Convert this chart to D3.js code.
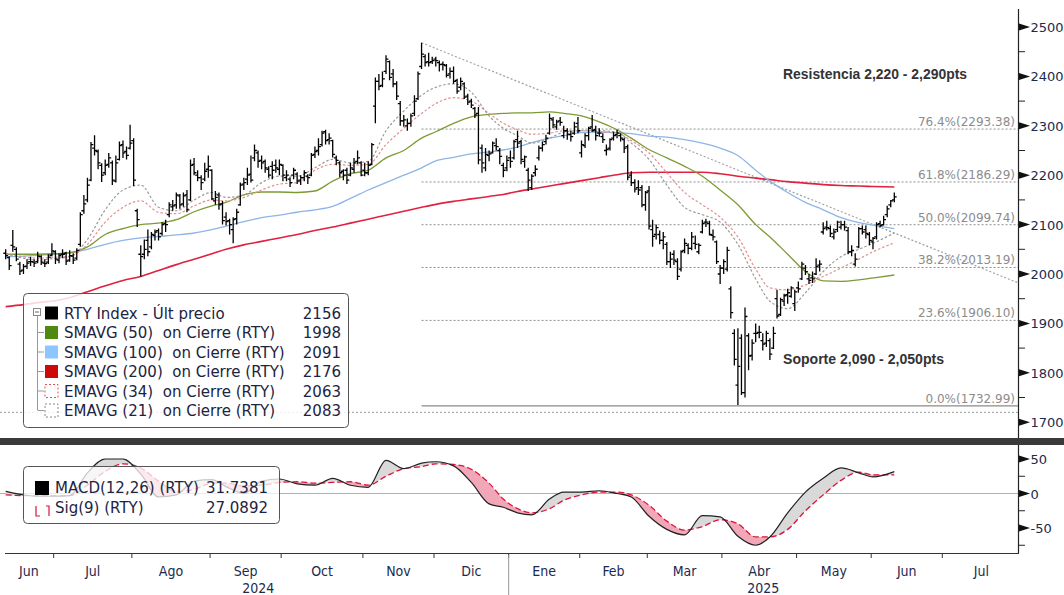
<!DOCTYPE html>
<html>
<head>
<meta charset="utf-8">
<script src="https://cdn.jsdelivr.net/npm/d3@7"></script>
<style>
  body { margin: 0; background: #fff; }
  svg { display: block; font-family: "DejaVu Sans", sans-serif; }
</style>
</head>
<body>
<svg id="chart" width="1064" height="595"></svg>
<script>
// días festivos del mercado (no hay barra)
var holidays = ["2024-06-19","2024-07-04","2024-09-02","2024-11-28","2024-12-25","2025-01-01",
  "2025-01-09","2025-01-20","2025-02-17","2025-04-18","2025-05-26","2025-06-19","2025-07-04"];

// RTY diario, 10 jun 2024 -> 10 jun 2025 (apertura, máximo, mínimo, cierre)
var opens = [
  2042,2033,2058,2050,2020,2008,2016,2025,2024,2025,2035,2022,2024,2038,
  2045,2028,2040,2042,2028,2036,2032,2060,2128,2150,2190,2255,2248,2220,2205,2222,2225,2188,2232,2262,2248,2255,
  2270,2128,2040,2040,2068,2055,2078,2088,2082,2102,2120,2136,2140,2158,2142,2160,2150,2222,2200,2195,2192,2212,
  2210,2148,2160,2142,2115,2108,2090,2112,2140,2182,2192,2202,2235,2245,2230,2228,2212,2218,2220,2212,
  2220,2195,2192,2200,2202,2190,2195,2198,2200,2242,2250,2262,2288,2272,2270,2235,2225,2208,2210,2200,2212,2228,2225,
  2210,2205,2222,2340,2390,2382,2410,2430,2405,2385,2345,2310,2300,2305,2325,2355,2420,2440,2430,2430,
  2435,2428,2425,2422,2405,2410,2392,2378,2385,2360,2350,2335,2325,2255,2215,2240,2245,2260,2250,2220,2215,
  2235,2235,2272,2268,2228,2210,2175,2205,2235,2255,2268,2285,2312,2298,2310,2280,2290,2282,2285,2305,
  2245,2260,2280,2298,2292,2285,2278,2250,2255,2275,2282,2280,2272,2258,2200,2185,2175,2175,2140,
  2168,2090,2080,2080,2068,2060,2025,2040,2025,2010,2048,2058,2052,2062,2045,2085,2105,2102,2078,2065,2000,
  2012,2010,1970,1880,1775,1870,1760,1875,1835,1880,1882,1865,1860,1865,1850,1950,1918,1945,1958,1955,1940,
  1972,1990,2012,1990,1992,2000,2018,2085,2095,2092,2075,2090,2095,2100,2088,2045,2020,2055,2092,2090,2080,
  2065,2075,2102,2100,2120,2140,2150
];
var highs = [
  2050,2036,2089,2054,2025,2020,2030,2035,2030,2045,2038,2030,2040,2062,
  2048,2042,2050,2045,2048,2042,2052,2125,2160,2195,2267,2281,2252,2224,2232,2245,2230,2240,2268,2270,2258,2302,
  2275,2132,2058,2070,2090,2085,2090,2092,2105,2110,2145,2150,2165,2162,2165,2170,2232,2235,2210,2200,2225,2240,
  2212,2168,2165,2148,2125,2112,2115,2132,2185,2195,2215,2240,2262,2250,2240,2232,2218,2228,2232,2232,
  2222,2210,2196,2215,2206,2200,2210,2202,2245,2258,2275,2290,2292,2285,2272,2240,2228,2212,2215,2225,2235,2250,2228,
  2225,2228,2265,2398,2405,2410,2443,2432,2415,2390,2350,2322,2315,2325,2362,2410,2468,2445,2448,2440,
  2440,2432,2430,2425,2418,2420,2395,2398,2388,2365,2355,2338,2338,2262,2255,2250,2268,2275,2255,2225,2240,
  2250,2272,2290,2272,2240,2215,2202,2220,2260,2268,2282,2325,2318,2312,2318,2300,2295,2290,2308,2318,
  2270,2285,2298,2322,2300,2295,2285,2262,2275,2288,2292,2285,2276,2262,2208,2192,2190,2180,2168,
  2178,2110,2100,2088,2085,2065,2045,2048,2032,2048,2072,2062,2085,2078,2062,2110,2112,2108,2090,2068,2018,
  2030,2055,1975,1888,1890,1878,1932,1880,1868,1900,1895,1880,1885,1870,1893,1968,1952,1960,1970,1975,1968,
  1985,2025,2018,2000,2005,2032,2028,2105,2108,2098,2092,2108,2108,2108,2095,2058,2042,2095,2098,2098,2085,
  2075,2105,2108,2118,2138,2150,2165
];
var lows = [
  2030,2008,2045,2026,1998,2000,2010,2016,2014,2022,2018,2014,2020,2036,
  2020,2022,2032,2018,2025,2020,2028,2055,2122,2145,2188,2240,2212,2186,2200,2215,2180,2185,2230,2235,2232,2252,
  2178,2095,1995,2030,2036,2050,2068,2068,2078,2085,2115,2128,2132,2132,2136,2125,2148,2200,2188,2170,2188,2195,
  2150,2140,2130,2100,2098,2080,2062,2100,2138,2170,2180,2185,2228,2215,2212,2205,2195,2192,2205,2200,
  2188,2188,2176,2192,2182,2180,2188,2182,2198,2235,2240,2258,2262,2262,2236,2220,2196,2190,2182,2198,2205,2222,2198,
  2198,2200,2220,2305,2372,2378,2405,2392,2378,2352,2300,2298,2290,2298,2320,2352,2415,2420,2420,2425,
  2420,2410,2412,2398,2396,2385,2365,2372,2354,2342,2336,2316,2222,2205,2208,2228,2244,2250,2222,2196,2208,
  2215,2232,2255,2222,2215,2168,2170,2198,2230,2248,2262,2282,2295,2292,2300,2275,2272,2268,2282,2285,
  2236,2255,2270,2288,2270,2278,2265,2240,2250,2270,2275,2268,2245,2190,2178,2165,2160,2135,2128,
  2090,2055,2070,2060,2050,2018,2012,2018,1988,2005,2042,2040,2048,2050,2040,2082,2095,2078,2068,2020,1980,
  2000,2005,1910,1815,1735,1755,1750,1805,1825,1862,1870,1845,1852,1826,1848,1910,1915,1935,1940,1952,1925,
  1962,1988,1998,1980,1982,1998,2005,2080,2088,2075,2070,2085,2090,2088,2040,2036,2015,2052,2080,2072,2058,
  2050,2070,2094,2098,2115,2135,2145
];
var closes = [
  2037,2017,2055,2030,2006,2015,2022,2025,2022,2036,2024,2021,2034,2047,
  2030,2037,2040,2026,2037,2028,2048,2120,2142,2180,2262,2250,2225,2200,2220,2235,2190,2225,2260,2245,2240,2265,
  2190,2110,2035,2050,2045,2080,2085,2075,2100,2100,2140,2138,2160,2140,2158,2130,2220,2205,2195,2185,2208,2218,
  2152,2155,2140,2108,2106,2100,2110,2125,2180,2185,2200,2190,2250,2228,2225,2215,2200,2210,2215,2222,
  2200,2200,2185,2210,2188,2195,2205,2195,2240,2248,2258,2285,2270,2275,2242,2230,2205,2200,2190,2215,2225,2235,2200,
  2205,2220,2262,2390,2380,2395,2435,2398,2385,2360,2310,2312,2305,2320,2350,2405,2445,2428,2428,2432,
  2432,2424,2424,2402,2410,2390,2370,2390,2358,2348,2342,2322,2231,2225,2242,2243,2265,2258,2238,2210,2230,
  2228,2268,2265,2232,2237,2190,2198,2212,2255,2262,2275,2315,2302,2308,2307,2290,2283,2278,2298,2290,
  2262,2280,2295,2290,2280,2285,2272,2252,2272,2280,2285,2275,2255,2196,2185,2172,2170,2140,2165,
  2097,2076,2094,2068,2075,2025,2030,2028,1995,2045,2062,2052,2075,2060,2058,2102,2105,2080,2075,2025,2012,
  2025,2048,1922,1827,1813,1760,1914,1834,1860,1880,1882,1858,1880,1838,1880,1915,1948,1956,1962,1972,1964,
  1970,2020,2005,1987,1990,2015,2020,2092,2094,2082,2085,2105,2100,2095,2045,2048,2030,2092,2085,2082,2068,
  2072,2100,2098,2110,2132,2148,2156
];

// medias móviles y MACD leídas por semana
var maDates = ["2024-06-10","2024-06-17","2024-06-24","2024-07-01","2024-07-08","2024-07-15","2024-07-22",
  "2024-07-29","2024-08-05","2024-08-12","2024-08-19","2024-08-26","2024-09-03","2024-09-09","2024-09-16",
  "2024-09-23","2024-09-30","2024-10-07","2024-10-14","2024-10-21","2024-10-28","2024-11-04","2024-11-11",
  "2024-11-18","2024-11-25","2024-12-02","2024-12-09","2024-12-16","2024-12-23","2024-12-30","2025-01-06",
  "2025-01-13","2025-01-21","2025-01-27","2025-02-03","2025-02-10","2025-02-18","2025-02-24","2025-03-03",
  "2025-03-10","2025-03-17","2025-03-24","2025-03-31","2025-04-07","2025-04-14","2025-04-21","2025-04-28",
  "2025-05-05","2025-05-12","2025-05-19","2025-05-27","2025-06-02","2025-06-10"];
var sma50 = [2040,2040,2040,2041,2043,2055,2080,2092,2100,2103,2110,2126,2138,2145,2160,2166,2166,2165,2168,
  2188,2203,2210,2235,2250,2275,2288,2305,2318,2323,2325,2326,2326,2328,2325,2320,2308,2292,2275,2252,2235,
  2218,2198,2170,2140,2100,2075,2040,2005,1986,1985,1988,1992,1998];
var sma100 = [2035,2036,2038,2040,2043,2050,2060,2068,2073,2076,2079,2083,2090,2097,2106,2114,2119,2125,2130,
  2137,2153,2170,2185,2200,2215,2229,2236,2243,2247,2251,2257,2266,2275,2280,2286,2287,2286,2284,2279,2277,
  2272,2265,2255,2240,2210,2188,2165,2145,2130,2114,2104,2099,2092];
var sma200 = [1934,1938,1942,1946,1952,1964,1976,1987,1995,2007,2019,2030,2041,2050,2059,2066,2073,2080,2088,
  2095,2103,2111,2119,2127,2135,2141,2147,2152,2157,2161,2167,2172,2178,2183,2189,2195,2201,2205,2206,2206,
  2206,2206,2203,2198,2194,2191,2187,2184,2181,2179,2178,2177,2176];
var ema34 = [2040,2035,2032,2034,2036,2060,2105,2135,2148,2125,2122,2138,2150,2148,2155,2170,2182,2185,2210,
  2222,2220,2222,2262,2295,2325,2345,2357,2350,2325,2305,2292,2283,2285,2290,2290,2288,2285,2270,2245,2205,
  2165,2140,2115,2075,2010,1972,1968,1978,1995,2012,2030,2045,2063];
var ema21 = [2042,2032,2028,2032,2035,2070,2130,2170,2180,2135,2128,2150,2165,2155,2160,2185,2198,2198,2215,
  2232,2225,2228,2290,2330,2362,2378,2385,2368,2320,2295,2280,2265,2275,2287,2290,2290,2287,2265,2232,2180,
  2135,2120,2105,2060,1990,1945,1930,1962,2005,2035,2050,2062,2083];
var macd = [3,-2,-4,-4,-3,30,50,50,28,-5,-2,18,20,10,0,18,21,14,12,22,12,9,48,36,44,46,40,16,-15,-20,-28,
  -31,-8,2,2,4,0,-5,-33,-52,-60,-32,-34,-62,-75,-63,-28,2,22,37,30,24,31.74];
var signal = [-2,-3,-3,-3,-3,12,32,43,37,18,3,6,15,15,11,12,16,17,15,16,17,12,25,36,39,43,42,35,15,-8,-22,
  -28,-22,-10,-2,2,2,-2,-17,-40,-53,-48,-38,-44,-63,-63,-52,-25,-2,19,31,27,27.09];

// niveles de Fibonacci desde el máximo de noviembre
var fibLevels = [2293.38, 2186.29, 2099.74, 2013.19, 1906.10, 1732.99];
var fibPct = ["76.4%", "61.8%", "50.0%", "38.2%", "23.6%", "0.0%"];
var fibStart = "2024-11-25";
var trendStart = ["2024-11-25", 2468], trendEnd = ["2025-06-10", 2083];
var lineaInferior = 1720;

var legendRows = [
  { name: "RTY Index - Últ precio", value: "2156" },
  { name: "SMAVG (50)  on Cierre (RTY)", value: "1998" },
  { name: "SMAVG (100)  on Cierre (RTY)", value: "2091" },
  { name: "SMAVG (200)  on Cierre (RTY)", value: "2176" },
  { name: "EMAVG (34)  on Cierre (RTY)", value: "2063" },
  { name: "EMAVG (21)  on Cierre (RTY)", value: "2083" }
];
var monthNames = ["Ene","Feb","Mar","Abr","May","Jun","Jul","Ago","Sep","Oct","Nov","Dic"];

var svg = d3.select("#chart");
var axisColor = "#1b2a4e";

// calendario de sesiones
var fmt = d3.utcFormat("%Y-%m-%d");
var days = d3.utcDays(new Date("2024-06-10T00:00:00Z"), new Date("2025-08-01T00:00:00Z"))
  .map(fmt)
  .filter(function (s) {
    var wd = new Date(s + "T00:00:00Z").getUTCDay();
    return wd !== 0 && wd !== 6 && holidays.indexOf(s) < 0;
  });
var dayIndex = {};
days.forEach(function (d, i) { dayIndex[d] = i; });

var x = d3.scaleLinear().domain([-1.6, 284.8]).range([0, 1018]);
var y = d3.scaleLinear().domain([1700, 2500]).range([422.2, 27]);
var ym = d3.scaleLinear().domain([-50, 50]).range([528, 459]);
var xd = function (d) { return x(dayIndex[d]); };

svg.append("defs").append("clipPath").attr("id", "plotClip")
  .append("rect").attr("x", 0).attr("y", 8).attr("width", 1018).attr("height", 430);

var main = svg.append("g").attr("clip-path", "url(#plotClip)");

// línea punteada inferior
main.append("line")
  .attr("x1", 0).attr("x2", 1018)
  .attr("y1", y(lineaInferior)).attr("y2", y(lineaInferior))
  .attr("stroke", "#9a9a9a").attr("stroke-dasharray", "2,2");

// Fibonacci
fibLevels.forEach(function (v, i) {
  main.append("line")
    .attr("x1", xd(fibStart)).attr("x2", 1018)
    .attr("y1", y(v)).attr("y2", y(v))
    .attr("stroke", i === 5 ? "#8a8a8a" : "#8e8e8e")
    .attr("stroke-width", i === 5 ? 1.2 : 1)
    .attr("stroke-dasharray", i === 5 ? null : "2,2");
  main.append("text")
    .attr("x", 1015).attr("y", y(v) - 3)
    .attr("text-anchor", "end")
    .attr("font-size", 12)
    .attr("fill", "#8c8c8c")
    .text(fibPct[i] + "(" + d3.format(".2f")(v) + ")");
});

// línea de tendencia bajista
var tx1 = xd(trendStart[0]), ty1 = y(trendStart[1]);
var tx2 = xd(trendEnd[0]), ty2 = y(trendEnd[1]);
var slope = (ty2 - ty1) / (tx2 - tx1);
main.append("line")
  .attr("x1", tx1).attr("y1", ty1)
  .attr("x2", 1018).attr("y2", ty1 + slope * (1018 - tx1))
  .attr("stroke", "#a0a0a0").attr("stroke-width", 1.2).attr("stroke-dasharray", "2,2");

// medias móviles
function maPath(vals) {
  return d3.line()
    .curve(d3.curveMonotoneX)
    .x(function (v, k) { return xd(maDates[k]); })
    .y(function (v) { return y(v); })(vals);
}
var maStyles = [
  { vals: sma200, color: "#e0213f", w: 1.6, dash: null },
  { vals: sma100, color: "#8db6e6", w: 1.3, dash: null },
  { vals: sma50, color: "#7d9a34", w: 1.3, dash: null },
  { vals: ema34, color: "#e58f8f", w: 1.2, dash: "2.5,2" },
  { vals: ema21, color: "#9a9a9a", w: 1.2, dash: "2.5,2" }
];
maStyles.forEach(function (m) {
  main.append("path")
    .attr("d", maPath(m.vals))
    .attr("fill", "none")
    .attr("stroke", m.color)
    .attr("stroke-width", m.w)
    .attr("stroke-dasharray", m.dash);
});

// barras OHLC
var bars = closes.map(function (c, i) {
  return { i: i, o: opens[i], h: highs[i], l: lows[i], c: c };
});
main.append("g")
  .attr("stroke", "#000").attr("stroke-width", 1.3).attr("fill", "none")
  .selectAll("path").data(bars).join("path")
  .attr("d", function (d) {
    var cx = x(d.i);
    return "M" + cx + "," + y(d.h) + "V" + y(d.l) +
      "M" + (cx - 2.4) + "," + y(d.o) + "H" + cx +
      "M" + cx + "," + y(d.c) + "H" + (cx + 2.4);
  });

// anotaciones
svg.append("text").attr("x", 783).attr("y", 79)
  .attr("font-family", "Liberation Sans, Arial, sans-serif").attr("font-weight", "bold")
  .attr("font-size", 15).attr("fill", "#333")
  .attr("textLength", 184).attr("lengthAdjust", "spacingAndGlyphs")
  .text("Resistencia 2,220 - 2,290pts");
svg.append("text").attr("x", 783).attr("y", 364)
  .attr("font-family", "Liberation Sans, Arial, sans-serif").attr("font-weight", "bold")
  .attr("font-size", 15).attr("fill", "#333")
  .attr("textLength", 161).attr("lengthAdjust", "spacingAndGlyphs")
  .text("Soporte 2,090 - 2,050pts");

// eje derecho del precio
svg.append("line").attr("x1", 1018.5).attr("x2", 1018.5).attr("y1", 9).attr("y2", 438)
  .attr("stroke", "#222").attr("stroke-width", 1.2);
var yAxis = svg.append("g");
d3.range(1700, 2501, 100).forEach(function (v) {
  var yy = y(v);
  yAxis.append("path").attr("d", "M1019," + (yy - 3.5) + "L1030," + yy + "L1019," + (yy + 3.5) + "Z").attr("fill", "#111");
  yAxis.append("text").attr("x", 1030.5).attr("y", yy + 5).attr("font-size", 13).attr("fill", axisColor).text(v);
});
d3.range(1750, 2500, 100).forEach(function (v) {
  yAxis.append("line").attr("x1", 1019).attr("x2", 1025).attr("y1", y(v)).attr("y2", y(v)).attr("stroke", "#222");
});

// leyenda principal
var lg = svg.append("g");
lg.append("rect").attr("x", 23.5).attr("y", 293.5).attr("width", 325).attr("height", 134).attr("rx", 4)
  .attr("fill", "#fff").attr("fill-opacity", 0.82).attr("stroke", "#555");
lg.append("rect").attr("x", 33.5).attr("y", 308.5).attr("width", 7).attr("height", 7)
  .attr("fill", "#fff").attr("stroke", "#888");
lg.append("line").attr("x1", 35).attr("x2", 39).attr("y1", 312).attr("y2", 312).attr("stroke", "#666");
lg.append("line").attr("x1", 37.5).attr("x2", 37.5).attr("y1", 316).attr("y2", 410).attr("stroke", "#999");
var swatches = [
  { fill: "#000", stroke: null, dash: null },
  { fill: "#4f8a10", stroke: null, dash: null },
  { fill: "#8cc6ff", stroke: null, dash: null },
  { fill: "#cc0a0a", stroke: null, dash: null },
  { fill: "none", stroke: "#e05050", dash: "2,2" },
  { fill: "none", stroke: "#888", dash: "2,2" }
];
legendRows.forEach(function (r, i) {
  var cy = 313 + i * 19.5;
  if (i > 0) lg.append("line").attr("x1", 37.5).attr("x2", 44).attr("y1", cy).attr("y2", cy).attr("stroke", "#999");
  lg.append("rect").attr("x", 45).attr("y", cy - 6.5).attr("width", 13).attr("height", 13)
    .attr("fill", swatches[i].fill).attr("stroke", swatches[i].stroke).attr("stroke-dasharray", swatches[i].dash);
  lg.append("text").attr("x", 64).attr("y", cy + 5.5).attr("font-size", 15).attr("fill", "#1c2442")
    .attr("xml:space", "preserve").style("white-space", "pre").text(r.name);
  lg.append("text").attr("x", 341).attr("y", cy + 5.5).attr("font-size", 15).attr("fill", "#1c2442")
    .attr("text-anchor", "end").text(r.value);
});

// separador entre paneles
svg.append("rect").attr("x", 0).attr("y", 438).attr("width", 1064).attr("height", 7).attr("fill", "#3a3a3a");

// panel MACD
svg.append("line").attr("x1", 0).attr("x2", 1018).attr("y1", ym(0)).attr("y2", ym(0)).attr("stroke", "#b0b0b0");
var mpts = maDates.map(function (d, k) { return { x: xd(d), m: macd[k], s: signal[k] }; });
var defs = svg.select("defs");
var belowMacd = d3.area().curve(d3.curveMonotoneX).x(function (d) { return d.x; })
  .y0(function (d) { return ym(d.m); }).y1(553);
var belowSig = d3.area().curve(d3.curveMonotoneX).x(function (d) { return d.x; })
  .y0(function (d) { return ym(d.s); }).y1(553);
defs.append("clipPath").attr("id", "clipBelowMacd").append("path").attr("d", belowMacd(mpts));
defs.append("clipPath").attr("id", "clipBelowSig").append("path").attr("d", belowSig(mpts));
var aboveSig = d3.area().curve(d3.curveMonotoneX).x(function (d) { return d.x; })
  .y0(447).y1(function (d) { return ym(d.s); });
var aboveMacd = d3.area().curve(d3.curveMonotoneX).x(function (d) { return d.x; })
  .y0(447).y1(function (d) { return ym(d.m); });
svg.append("path").attr("d", aboveSig(mpts)).attr("fill", "#d9d9d9").attr("clip-path", "url(#clipBelowMacd)");
svg.append("path").attr("d", aboveMacd(mpts)).attr("fill", "#f2a7b8").attr("clip-path", "url(#clipBelowSig)");
var lineM = d3.line().curve(d3.curveMonotoneX).x(function (d) { return d.x; });
svg.append("path").attr("d", lineM.y(function (d) { return ym(d.s); })(mpts))
  .attr("fill", "none").attr("stroke", "#e0103a").attr("stroke-width", 1.3).attr("stroke-dasharray", "6,3");
svg.append("path").attr("d", lineM.y(function (d) { return ym(d.m); })(mpts))
  .attr("fill", "none").attr("stroke", "#222").attr("stroke-width", 1.2);

// eje MACD
svg.append("line").attr("x1", 1018.5).attr("x2", 1018.5).attr("y1", 445).attr("y2", 553)
  .attr("stroke", "#222").attr("stroke-width", 1.2);
[50, 0, -50].forEach(function (v) {
  var yy = ym(v);
  svg.append("path").attr("d", "M1019," + (yy - 3.5) + "L1030," + yy + "L1019," + (yy + 3.5) + "Z").attr("fill", "#111");
  svg.append("text").attr("x", 1030.5).attr("y", yy + 5).attr("font-size", 13).attr("fill", axisColor).text(v);
});
[25, -25, -75].forEach(function (v) {
  svg.append("line").attr("x1", 1019).attr("x2", 1025).attr("y1", ym(v)).attr("y2", ym(v)).attr("stroke", "#222");
});

// leyenda MACD
var lm = svg.append("g");
lm.append("rect").attr("x", 23.5).attr("y", 466.5).attr("width", 256).attr("height", 57).attr("rx", 4)
  .attr("fill", "#fff").attr("fill-opacity", 0.75).attr("stroke", "#555");
lm.append("rect").attr("x", 35).attr("y", 481).attr("width", 14).attr("height", 14).attr("fill", "#000");
lm.append("path").attr("d", "M36,506V516H40M46,506H49V516").attr("fill", "none").attr("stroke", "#e0103a").attr("stroke-width", 1.2);
lm.append("text").attr("x", 55).attr("y", 493).attr("font-size", 15).attr("fill", "#1c2442").text("MACD(12,26) (RTY)");
lm.append("text").attr("x", 268).attr("y", 493).attr("font-size", 15).attr("fill", "#1c2442").attr("text-anchor", "end").text("31.7381");
lm.append("text").attr("x", 55).attr("y", 513).attr("font-size", 15).attr("fill", "#1c2442").text("Sig(9) (RTY)");
lm.append("text").attr("x", 268).attr("y", 513).attr("font-size", 15).attr("fill", "#1c2442").attr("text-anchor", "end").text("27.0892");

// eje de fechas
svg.append("line").attr("x1", 5).attr("x2", 1019).attr("y1", 553.5).attr("y2", 553.5).attr("stroke", "#333").attr("stroke-width", 1.2);
var monthStarts = [];
days.forEach(function (d, i) {
  if (i === 0 || d.slice(0, 7) !== days[i - 1].slice(0, 7)) monthStarts.push({ key: d.slice(0, 7), i: i });
});
var bounds = monthStarts.map(function (m) { return Math.max(0, x(m.i - 0.5)); });
bounds.push(x(days.length - 0.5));
var xAxis = svg.append("g");
monthStarts.forEach(function (m, k) {
  if (k > 0) xAxis.append("line").attr("x1", bounds[k]).attr("x2", bounds[k]).attr("y1", 554).attr("y2", 558).attr("stroke", "#333");
  var mid = (bounds[k] + bounds[k + 1]) / 2;
  xAxis.append("text").attr("x", mid).attr("y", 576).attr("text-anchor", "middle")
    .attr("font-family", "DejaVu Sans Condensed, DejaVu Sans, sans-serif")
    .attr("font-size", 14).attr("fill", axisColor)
    .text(monthNames[+m.key.slice(5, 7) - 1]);
});
var jan = x(dayIndex["2025-01-02"] - 0.5);
xAxis.append("line").attr("x1", jan).attr("x2", jan).attr("y1", 555).attr("y2", 595).attr("stroke", "#999");
xAxis.append("text").attr("x", jan / 2 + 4).attr("y", 593).attr("text-anchor", "middle")
  .attr("font-family", "DejaVu Sans Condensed, DejaVu Sans, sans-serif")
  .attr("font-size", 14).attr("fill", axisColor).text("2024");
xAxis.append("text").attr("x", (jan + 1018) / 2).attr("y", 593).attr("text-anchor", "middle")
  .attr("font-family", "DejaVu Sans Condensed, DejaVu Sans, sans-serif")
  .attr("font-size", 14).attr("fill", axisColor).text("2025");
</script>
</body>
</html>
